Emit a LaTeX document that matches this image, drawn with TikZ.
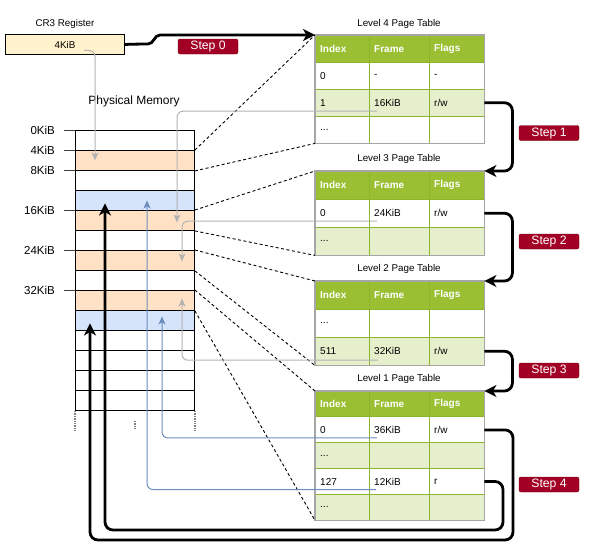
\documentclass[tikz,border=0pt]{standalone}
\usepackage{fontspec}
\setmainfont{Liberation Sans}
\usetikzlibrary{arrows.meta,calc}
\definecolor{hdrgreen}{HTML}{9ABF33}
\definecolor{gridgreen}{HTML}{8DB52C}
\definecolor{rowgreen}{HTML}{E6EFCC}
\definecolor{tblgray}{HTML}{A6A6A6}
\definecolor{memorange}{HTML}{FFE2C6}
\definecolor{memblue}{HTML}{D6E4FB}
\definecolor{cryellow}{HTML}{FFF2CC}
\definecolor{stepred}{HTML}{A20025}
\definecolor{stepedge}{HTML}{6F0000}
\definecolor{lgray}{HTML}{B3B3B3}
\definecolor{lblue}{HTML}{6C8EBF}
\tikzset{
 memrow/.style={draw=black, line width=0.9pt, minimum width=119pt, minimum height=20pt, inner sep=0pt, anchor=north west},
 memlbl/.style={anchor=east, font=\fontsize{11.5}{13}\selectfont, inner sep=0pt},
 tickln/.style={draw=black!75, line width=0.8pt},
 rowbox/.style={minimum width=169pt, inner sep=0pt, anchor=north west},
 celltxt/.style={anchor=west, inner sep=0pt, font=\fontsize{10}{12}\selectfont},
 hdrtxt/.style={text=white, font=\fontsize{10}{12}\selectfont\bfseries},
 gridln/.style={draw=gridgreen, line width=0.9pt},
 tblframe/.style={draw=tblgray, line width=1.4pt},
 ttl/.style={font=\fontsize{9.8}{11}\selectfont, inner sep=0pt},
 steplbl/.style={fill=stepred, draw=stepedge, rounded corners=2pt, text=white, minimum width=60pt, minimum height=15pt, inner sep=0pt, font=\fontsize{12.2}{14}\selectfont},
 stepline/.style={line width=2.8pt, rounded corners=8pt, -{Stealth[length=12pt,width=12pt,inset=3.5pt]}},
 ptrgray/.style={draw=lgray, line width=1pt, rounded corners=6pt, -{Stealth[length=8pt,width=7pt,inset=2pt]}},
 ptrblue/.style={draw=lblue, line width=1pt, rounded corners=6pt, -{Stealth[length=8pt,width=7pt,inset=2pt]}},
 dashln/.style={draw=black, line width=0.9pt, dash pattern=on 3pt off 2.5pt},
 dotln/.style={draw=gray, line width=2pt, dash pattern=on 1pt off 0.7pt},
}
\newcommand\tblrow[8]{%
  \node[rowbox, fill=#4, minimum height=#3pt] (#1) at (315,#2) {};
  \node[celltxt,#5] at ([xshift=5pt]#1.west) {#6};
  \node[celltxt,#5] at ([xshift=59pt]#1.west) {#7};
  \node[celltxt,#5] at ([xshift=119pt]#1.west) {#8};
}
\newcommand\tblgrid[3]{%
  \foreach \rw in {#3} {\draw[gridln] (\rw.north west) -- (\rw.north east);}
  \draw[gridln] ([xshift=54pt]#1.north west) -- ([xshift=54pt]#2.south west);
  \draw[gridln] ([xshift=114pt]#1.north west) -- ([xshift=114pt]#2.south west);
  \draw[tblframe] (#1.north west) rectangle (#2.south east);
}
\begin{document}
\begin{tikzpicture}[x=1pt,y=-1pt]
\useasboundingbox (0,0) rectangle (591,550);

% CR3 register
\node[ttl] (cr3t) at (65,24) {CR3 Register};
\node[draw=black, line width=0.9pt, fill=cryellow, minimum width=119pt, minimum height=20pt, inner sep=0pt, anchor=north west, font=\fontsize{9.8}{11}\selectfont] (cr3) at (5,34) {4KiB};

% Physical memory
\node[font=\fontsize{12}{14}\selectfont, inner sep=0pt] (pm) at (134,101) {Physical Memory};
\foreach \i/\f in {0/white,1/memorange,2/white,3/memblue,4/memorange,5/white,6/memorange,7/white,8/memorange,9/memblue,10/white,11/white,12/white,13/white}
  \node[memrow, fill=\f] (m\i) at (75,{130+20*\i}) {};

\foreach \i/\t in {0/0KiB,1/4KiB,2/8KiB,4/16KiB,6/24KiB,8/32KiB}{
  \draw[tickln] (m\i.north west) -- ++(-11,0);
  \node[memlbl] (lb\i) at ($(m\i.north west)+(-20,0)$) {\t};
}
\draw[dotln] (m13.south west) -- ++(0,19);
\draw[dotln] (m13.south east) -- ++(0,19);
\draw[dotln] ($(m13.south)+(0,10)$) -- ++(0,7);

% Tables
\node[ttl] (t4t) at (399,24) {Level 4 Page Table};
\tblrow{t4h}{35}{27}{hdrgreen}{hdrtxt}{Index}{Frame}{Flags}
\tblrow{t4r0}{62}{27}{white}{}{0}{-}{-}
\tblrow{t4r1}{89}{27}{rowgreen}{}{1}{16KiB}{r/w}
\tblrow{t4r2}{116}{27}{white}{}{...}{}{}
\tblgrid{t4h}{t4r2}{t4r0,t4r1,t4r2}

\node[ttl] (t3t) at (399,159) {Level 3 Page Table};
\tblrow{t3h}{171}{28}{hdrgreen}{hdrtxt}{Index}{Frame}{Flags}
\tblrow{t3r0}{199}{28}{white}{}{0}{24KiB}{r/w}
\tblrow{t3r1}{227}{28}{rowgreen}{}{...}{}{}
\tblgrid{t3h}{t3r1}{t3r0,t3r1}

\node[ttl] (t2t) at (399,269) {Level 2 Page Table};
\tblrow{t2h}{281}{28}{hdrgreen}{hdrtxt}{Index}{Frame}{Flags}
\tblrow{t2r0}{309}{28}{white}{}{...}{}{}
\tblrow{t2r1}{337}{28}{rowgreen}{}{511}{32KiB}{r/w}
\tblgrid{t2h}{t2r1}{t2r0,t2r1}

\node[ttl] (t1t) at (399,379) {Level 1 Page Table};
\tblrow{t1h}{391}{25.8}{hdrgreen}{hdrtxt}{Index}{Frame}{Flags}
\tblrow{t1r0}{416.8}{25.8}{white}{}{0}{36KiB}{r/w}
\tblrow{t1r1}{442.6}{25.8}{rowgreen}{}{...}{}{}
\tblrow{t1r2}{468.4}{25.8}{white}{}{127}{12KiB}{r}
\tblrow{t1r3}{494.2}{25.8}{rowgreen}{}{...}{}{}
\tblgrid{t1h}{t1r3}{t1r0,t1r1,t1r2,t1r3}

% dashed correspondences
\draw[dashln] (m1.north east) -- (t4h.north west);
\draw[dashln] (m1.south east) -- (t4r2.south west);
\draw[dashln] (m4.north east) -- (t3h.north west);
\draw[dashln] (m4.south east) -- (t3r1.south west);
\draw[dashln] (m6.north east) -- (t2h.north west);
\draw[dashln] (m6.south east) -- (t2r1.south west);
\draw[dashln] (m8.north east) -- (t1h.north west);
\draw[dashln] (m8.south east) -- (t1r3.south west);

% pointers to frames
\draw[ptrgray] ($(cr3.center)+(19,6)$) -| ($(m1.west)+(20,0)$);
\draw[ptrgray] ($(t4r1.west)+(62,8.5)$) -| ($(m4.west)+(102,2)$);
\draw[ptrgray] ($(t3r0.west)+(62,8)$) -| ($(m6.west)+(107,1)$);
\draw[ptrgray] ($(t2r1.west)+(63,9)$) -| ($(m8.west)+(107,-2)$);
\draw[ptrblue] ($(t1r0.west)+(62,8)$) -| ($(m9.west)+(87,-4)$);
\draw[ptrblue] ($(t1r2.west)+(61,8)$) -| ($(m3.west)+(72,0)$);

% steps
\draw[stepline] (cr3.east) -- (140,44) .. controls (154,44) and (154,35) .. (168,35) -- (t4h.north west);
\draw[stepline] (t4r1.east) -| ([xshift=28pt]t3h.north east) -- (t3h.north east);
\draw[stepline] (t3r0.east) -| ([xshift=28pt]t2h.north east) -- (t2h.north east);
\draw[stepline] (t2r1.east) -| ([xshift=28pt]t1h.north east) -- (t1h.north east);
\coordinate (c4a) at (513,540);
\coordinate (c4b) at (503,530);
\draw[stepline] (t1r0.east) -| (c4a) -| ($(m9.west)+(15,3)$);
\draw[stepline] (t1r2.east) -| (c4b) -| ($(m3.west)+(30,3)$);

\node[steplbl] (s0) at (208,46.5) {Step 0};
\node[steplbl] (s1) at (549,133) {Step 1};
\node[steplbl] (s2) at (549,241.5) {Step 2};
\node[steplbl] (s3) at (549,370.5) {Step 3};
\node[steplbl] (s4) at (549,484.5) {Step 4};
\end{tikzpicture}
\end{document}
